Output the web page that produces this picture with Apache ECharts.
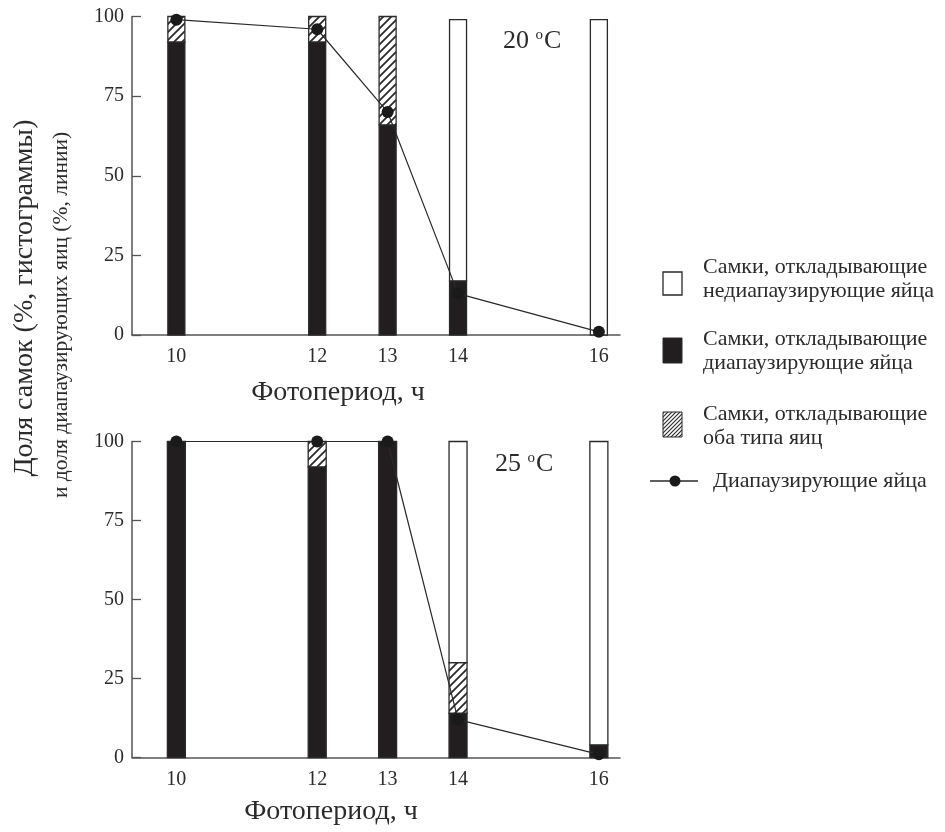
<!DOCTYPE html>
<html>
<head>
<meta charset="utf-8">
<script src="https://cdn.jsdelivr.net/npm/echarts@6/dist/echarts.min.js"></script>
<style>
  html, body { margin: 0; padding: 0; background: #fff; }
  #chart { width: 945px; height: 832px; }
</style>
</head>
<body>
<div id="chart"></div>
<script>
// Photoperiod (hours) of each experimental group
const hours = [10, 12, 13, 14, 16];
const hourTicks = [10, 12, 13, 14, 16];

// 20 °C: share of females (%) by egg type, and share of diapause eggs (%)
const diapause20 = [92, 92, 66, 17, 0];
const mixed20 = [8, 8, 34, 0, 0];
const nondiapause20 = [0, 0, 0, 82, 99];
const diapauseEggs20 = [99, 96, 70, 13, 1];

// 25 °C
const diapause25 = [100, 92, 100, 14, 4];
const mixed25 = [0, 8, 0, 16, 0];
const nondiapause25 = [0, 0, 0, 70, 96];
const diapauseEggs25 = [100, 100, 100, 12, 1];

const FONT = '"Liberation Serif", "DejaVu Serif", serif';
const INK = '#2b2b2b';
const BLACK = '#221e1f';

// Diagonal hatching used for "both egg types"
function hatchCanvas(step, lw) {
  const c = document.createElement('canvas');
  c.width = step; c.height = step;
  const g = c.getContext('2d');
  g.fillStyle = '#fff';
  g.fillRect(0, 0, step, step);
  g.strokeStyle = '#2a2a2a';
  g.lineWidth = lw;
  g.beginPath();
  g.moveTo(-1, step + 1); g.lineTo(step + 1, -1);
  g.moveTo(-step / 2 - 1, step / 2 + 1); g.lineTo(step / 2 + 1, -step / 2 - 1);
  g.moveTo(step / 2 - 1, step * 1.5 + 1); g.lineTo(step * 1.5 + 1, step / 2 - 1);
  g.stroke();
  return c;
}
const hatchBar = { image: hatchCanvas(8, 1.8), repeat: 'repeat' };
const hatchKey = { image: hatchCanvas(4, 1.1), repeat: 'repeat' };

// Stacked segments: [hour, lower, upper] for each non-empty share
function segments(layers) {
  const out = layers.map(() => []);
  hours.forEach((h, i) => {
    let base = 0;
    layers.forEach((vals, k) => {
      const v = vals[i];
      if (v > 0) out[k].push([h, base, base + v]);
      base += v;
    });
  });
  return out;
}

function barSeries(idx, segs, fill, width) {
  return {
    type: 'custom', xAxisIndex: idx, yAxisIndex: idx, silent: true, z: 2,
    data: segs,
    encode: { x: 0, y: [1, 2] },
    renderItem(params, api) {
      const lo = api.coord([api.value(0), api.value(1)]);
      const hi = api.coord([api.value(0), api.value(2)]);
      return {
        type: 'rect',
        shape: { x: lo[0] - width / 2, y: hi[1], width, height: lo[1] - hi[1] },
        style: { fill, stroke: '#2a2a2a', lineWidth: 1.3 }
      };
    }
  };
}
function lineSeries(idx, vals) {
  return {
    type: 'line', xAxisIndex: idx, yAxisIndex: idx, data: hours.map((h, i) => [h, vals[i]]), z: 5,
    symbol: 'circle', symbolSize: 12, silent: true,
    lineStyle: { color: '#2a2a2a', width: 1.2 },
    itemStyle: { color: '#1a1a1a' }
  };
}

function xAxis(idx) {
  return {
    type: 'value', gridIndex: idx, min: 9.37, max: 16.3,
    axisLine: { show: true, onZero: false, lineStyle: { color: '#555', width: 1.5 } },
    axisTick: { show: false },
    splitLine: { show: false },
    axisLabel: { customValues: hourTicks, fontFamily: FONT, fontSize: 20, color: INK, margin: 12 }
  };
}
function yAxis(idx) {
  return {
    type: 'value', gridIndex: idx, min: 0, max: 100, interval: 25,
    axisLine: { show: true, lineStyle: { color: '#555', width: 1.5 } },
    axisTick: { show: true, inside: true, length: 9, lineStyle: { color: '#555', width: 1.3 } },
    splitLine: { show: false },
    axisLabel: { fontFamily: FONT, fontSize: 20, color: INK, margin: 8 }
  };
}

function label(text, x, y, size, extra) {
  return Object.assign({
    type: 'text', x, y, silent: true,
    style: { text, fontFamily: FONT, fontSize: size, fill: INK, align: 'center', verticalAlign: 'middle' }
  }, extra || {});
}
function tempLabel(num, x, y) {
  return {
    type: 'text', x, y, silent: true,
    style: {
      text: '{n|' + num + ' }{s|o}{n|C}', align: 'left', verticalAlign: 'middle',
      rich: {
        n: { fontFamily: FONT, fontSize: 26, fill: INK, verticalAlign: 'bottom' },
        s: { fontFamily: FONT, fontSize: 15, fill: INK, verticalAlign: 'top', padding: [0, 1, 10, 0] }
      }
    }
  };
}
function keyText(text, x, y) {
  return {
    type: 'text', x, y, silent: true,
    style: { text, fontFamily: FONT, fontSize: 22, lineHeight: 24, fill: INK, align: 'left', verticalAlign: 'top' }
  };
}

const seg20 = segments([diapause20, mixed20, nondiapause20]);
const seg25 = segments([diapause25, mixed25, nondiapause25]);

const chart = echarts.init(document.getElementById('chart'), null, { renderer: 'canvas' });
chart.setOption({
  animation: false,
  backgroundColor: '#fff',
  grid: [
    { left: 132, top: 16.5, width: 488, height: 318.5 },
    { left: 132, top: 441.5, width: 488, height: 316 }
  ],
  xAxis: [xAxis(0), xAxis(1)],
  yAxis: [yAxis(0), yAxis(1)],
  series: [
    barSeries(0, seg20[0], BLACK, 17),
    barSeries(0, seg20[1], hatchBar, 17),
    barSeries(0, seg20[2], '#fff', 17),
    lineSeries(0, diapauseEggs20),
    barSeries(1, seg25[0], BLACK, 18),
    barSeries(1, seg25[1], hatchBar, 18),
    barSeries(1, seg25[2], '#fff', 18),
    lineSeries(1, diapauseEggs25)
  ],
  graphic: [
    label('Фотопериод, ч', 338, 393, 28),
    label('Фотопериод, ч', 331, 812, 28),
    label('Доля самок (%, гистограммы)', 25, 298, 28, { rotation: Math.PI / 2 }),
    label('и доля диапаузирующих яиц (%, линии)', 61, 315, 21.5, { rotation: Math.PI / 2 }),
    tempLabel('20', 503, 41),
    tempLabel('25', 495, 464),
    // key
    { type: 'rect', silent: true, shape: { x: 663, y: 272, width: 19, height: 23 },
      style: { fill: '#fff', stroke: '#2a2a2a', lineWidth: 1.3 } },
    keyText('Самки, откладывающие\nнедиапаузирующие яйца', 703, 255),
    { type: 'rect', silent: true, shape: { x: 663, y: 338, width: 19, height: 25 },
      style: { fill: BLACK, stroke: '#2a2a2a', lineWidth: 1 } },
    keyText('Самки, откладывающие\nдиапаузирующие яйца', 703, 327),
    { type: 'rect', silent: true, shape: { x: 663, y: 412, width: 19, height: 25 },
      style: { fill: hatchKey, stroke: '#2a2a2a', lineWidth: 1 } },
    keyText('Самки, откладывающие\nоба типа яиц', 703, 402),
    { type: 'line', silent: true, shape: { x1: 650, y1: 481, x2: 698, y2: 481 },
      style: { stroke: '#2a2a2a', lineWidth: 1.3 } },
    { type: 'circle', silent: true, shape: { cx: 675, cy: 481, r: 5.5 }, style: { fill: '#1a1a1a' } },
    keyText('Диапаузирующие яйца', 713, 469)
  ]
});
</script>
</body>
</html>
